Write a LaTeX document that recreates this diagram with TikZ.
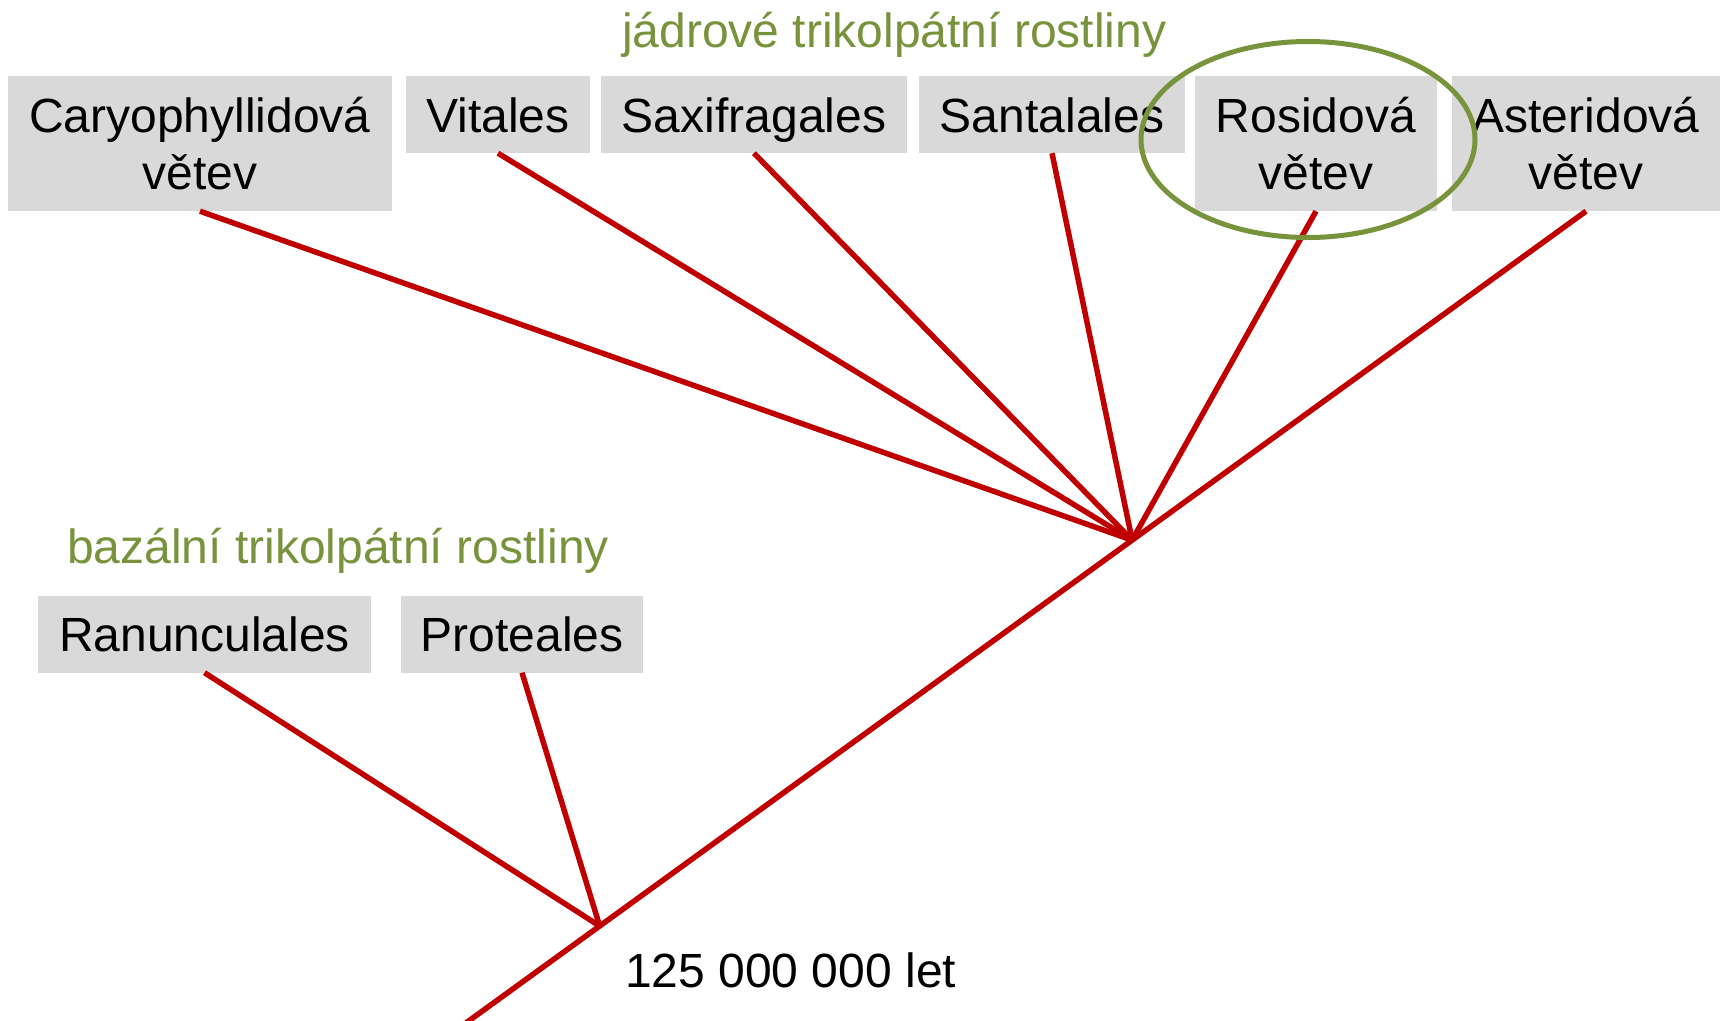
\documentclass[tikz,border=0pt]{standalone}
\usepackage{fontspec}
\setmainfont{Liberation Sans}
\usetikzlibrary{calc}
\definecolor{branch}{HTML}{C00000}
\definecolor{clade}{HTML}{77933C}
\definecolor{boxgray}{HTML}{D9D9D9}
% strut giving every box line the same height and depth
\newcommand\tstrut{\rule[-11pt]{0pt}{57pt}}

\begin{document}
\begin{tikzpicture}[x=1pt,y=-1pt,
  taxon/.style={fill=boxgray, inner sep=0pt, align=center,
                font=\fontsize{48}{57}\selectfont},
  taxonsmall/.style={taxon, minimum height=77pt},
  taxonbig/.style={taxon, minimum height=135pt},
  branchline/.style={draw=branch, line width=5.5pt},
  caption/.style={inner sep=0pt, anchor=base west,
                  font=\fontsize{48}{57}\selectfont},
  groupname/.style={caption, text=clade},
]
\clip (0,0) rectangle (1723,1020);
\fill[white] (0,0) rectangle (1723,1020);

% core tricolpates
\node[taxonbig, minimum width=384pt] (cary) at (200,143.5) {\tstrut Caryophyllidová\\\tstrut větev};
\node[taxonsmall, minimum width=184pt] (vit) at (498,114.5) {\tstrut Vitales};
\node[taxonsmall, minimum width=306pt] (sax) at (754,114.5) {\tstrut Saxifragales};
\node[taxonsmall, minimum width=266pt] (san) at (1052,114.5) {\tstrut Santalales};
\node[taxonbig, minimum width=242pt] (ros) at (1316,143.5) {\tstrut Rosidová\\\tstrut větev};
\node[taxonbig, minimum width=268pt] (ast) at (1586,143.5) {\tstrut Asteridová\\\tstrut větev};

% basal tricolpates
\node[taxonsmall, minimum width=333pt] (ran) at (204.5,634) {\tstrut Ranunculales};
\node[taxonsmall, minimum width=242pt] (pro) at (522,634) {\tstrut Proteales};

% group labels and age
\node[groupname] (core) at (622,47) {jádrové trikolpátní rostliny};
\node[groupname] (basal) at (67,563) {bazální trikolpátní rostliny};
\node[caption] (age) at (625,987) {125 000 000 let};

% tree
\coordinate (root) at (470,1020);
\coordinate (B) at ($(root)!0.1162!(ast.south)$);
\coordinate (A) at ($(root)!0.5933!(ast.south)$);

\draw[branchline, shorten <=-25pt] (root) -- (ast.south);
\foreach \t in {cary,vit,sax,san,ros}
  \draw[branchline] (\t.south) -- (A);
\foreach \t in {ran,pro}
  \draw[branchline] (\t.south) -- (B);

% highlight of the rosid clade
\draw[clade, line width=5pt] (1308,139.5) ellipse [x radius=167pt, y radius=98pt];
\end{tikzpicture}
\end{document}
